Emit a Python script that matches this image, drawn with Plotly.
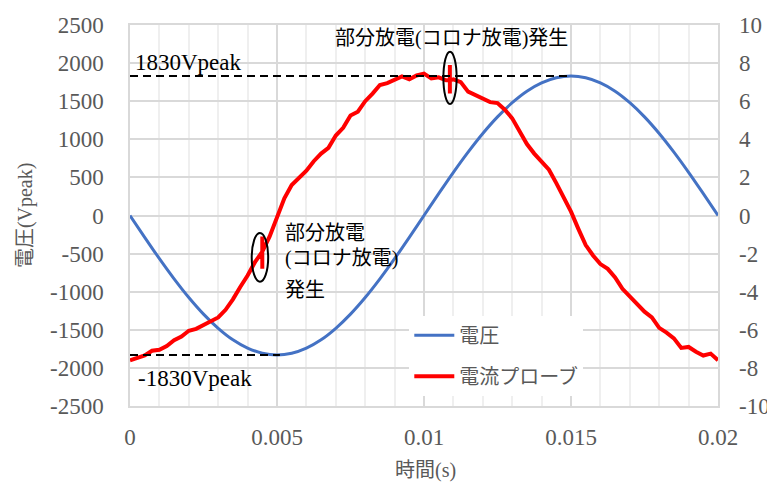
import plotly.graph_objects as go

# ---- data ----
volt_t = [0.0000, 0.0005, 0.0010, 0.0015, 0.0020, 0.0025, 0.0030, 0.0035, 0.0040, 0.0045,
          0.0050, 0.0055, 0.0060, 0.0065, 0.0070, 0.0075, 0.0080, 0.0085, 0.0090, 0.0095,
          0.0100, 0.0105, 0.0110, 0.0115, 0.0120, 0.0125, 0.0130, 0.0135, 0.0140, 0.0145,
          0.0150, 0.0155, 0.0160, 0.0165, 0.0170, 0.0175, 0.0180, 0.0185, 0.0190, 0.0195,
          0.0200]
volt_v = [0, -286, -566, -831, -1076, -1294, -1480, -1631, -1740, -1807,
          -1830, -1807, -1740, -1631, -1480, -1294, -1076, -831, -566, -286,
          0, 286, 566, 831, 1076, 1294, 1480, 1631, 1740, 1807,
          1830, 1807, 1740, 1631, 1480, 1294, 1076, 831, 566, 286,
          0]

cur_t = [0.00000, 0.00025, 0.00050, 0.00075, 0.00100, 0.00125, 0.00150, 0.00175, 0.00200, 0.00225,
         0.00250, 0.00275, 0.00300, 0.00325, 0.00350, 0.00375, 0.00400, 0.00425, 0.00450, 0.00450,
         0.00450, 0.00450, 0.00475, 0.00500, 0.00525, 0.00550, 0.00575, 0.00600, 0.00625, 0.00650,
         0.00675, 0.00700, 0.00725, 0.00750, 0.00775, 0.00800, 0.00825, 0.00850, 0.00875, 0.00900,
         0.00925, 0.00950, 0.00975, 0.01000, 0.01025, 0.01050, 0.01075, 0.01088, 0.01088, 0.01088,
         0.01088, 0.01100, 0.01125, 0.01150, 0.01175, 0.01200, 0.01225, 0.01250, 0.01275, 0.01300,
         0.01325, 0.01350, 0.01375, 0.01400, 0.01425, 0.01450, 0.01475, 0.01500, 0.01525, 0.01550,
         0.01575, 0.01600, 0.01625, 0.01650, 0.01675, 0.01700, 0.01725, 0.01750, 0.01775, 0.01800,
         0.01825, 0.01850, 0.01875, 0.01900, 0.01925, 0.01950, 0.01975, 0.02000]
cur_v = [-7.60, -7.45, -7.35, -7.10, -7.05, -6.85, -6.55, -6.35, -6.05, -5.95,
         -5.75, -5.60, -5.35, -4.95, -4.40, -3.75, -3.15, -2.45, -1.90, -1.10,
         -2.80, -1.90, -1.10, -0.10, 0.90, 1.60, 2.00, 2.35, 2.85, 3.25,
         3.55, 4.20, 4.60, 5.25, 5.45, 6.00, 6.40, 6.85, 6.95, 7.15,
         7.30, 7.15, 7.35, 7.45, 7.20, 7.25, 7.10, 7.10, 7.90, 6.40,
         7.10, 7.15, 7.00, 6.50, 6.30, 6.15, 5.95, 5.90, 5.55, 5.10,
         4.45, 3.75, 3.25, 2.80, 2.40, 1.70, 0.95, 0.20, -0.70, -1.55,
         -2.10, -2.55, -2.80, -3.25, -3.85, -4.25, -4.65, -5.05, -5.35, -5.90,
         -6.15, -6.45, -6.95, -6.90, -7.15, -7.35, -7.25, -7.60]

x_ticks = [0, 0.005, 0.01, 0.015, 0.02]
x_ticktext = ["0", "0.005", "0.01", "0.015", "0.02"]
y_ticks = [2500, 2000, 1500, 1000, 500, 0, -500, -1000, -1500, -2000, -2500]
y_ticktext = ["2500", "2000", "1500", "1000", "500", "0", "-500", "-1000", "-1500", "-2000", "-2500"]
y2_ticks = [10, 8, 6, 4, 2, 0, -2, -4, -6, -8, -10]
y2_ticktext = ["10", "8", "6", "4", "2", "0", "-2", "-4", "-6", "-8", "-10"]
peak = 1830

GRAY = "#595959"
SERIF = "Liberation Serif"
MIX = "Liberation Serif, Noto Sans CJK JP"

fig = go.Figure()
fig.add_trace(go.Scatter(x=volt_t, y=volt_v, mode="lines", name="電圧",
                         line=dict(color="#4472c4", width=3, shape="spline"),
                         legendgroup="a"))
fig.add_trace(go.Scatter(x=cur_t, y=cur_v, mode="lines", name="電流プローブ",
                         line=dict(color="#ff0000", width=4), yaxis="y2",
                         legendgroup="b"))

tickfont = dict(family=SERIF, size=23, color=GRAY)

# page body has an 8px margin, so the figure is 8px smaller and margins shifted
fig.update_layout(
    width=767, height=476,
    margin=dict(l=122, r=57, t=17, b=78),
    paper_bgcolor="white", plot_bgcolor="white",
    showlegend=True,
    legend=dict(x=0.475, y=0.237, xanchor="left", yanchor="top",
                bgcolor="white", font=dict(family="Noto Sans CJK JP", size=20, color=GRAY),
                tracegroupgap=12, itemwidth=40),
    xaxis=dict(range=[0, 0.02], tickvals=x_ticks, ticktext=x_ticktext, tickfont=tickfont,
               showgrid=True, gridcolor="#d9d9d9", gridwidth=1.5,
               minor=dict(dtick=0.001, showgrid=True, gridcolor="#efefef", gridwidth=1.5),
               showline=True, linecolor="#d9d9d9", mirror=True, linewidth=1.5,
               zeroline=False, ticks="", ticklabelstandoff=10, automargin=False),
    yaxis=dict(range=[-2500, 2500], tickvals=y_ticks, ticktext=y_ticktext, tickfont=tickfont,
               showgrid=True, gridcolor="#d9d9d9", gridwidth=1.5,
               showline=True, linecolor="#d9d9d9", mirror=True, linewidth=1.5,
               zeroline=True, zerolinecolor="#d9d9d9", zerolinewidth=1.5,
               ticks="", ticklabelstandoff=20, automargin=False),
    yaxis2=dict(range=[-10, 10], tickvals=y2_ticks, ticktext=y2_ticktext, overlaying="y",
                side="right", tickfont=tickfont,
                showgrid=False, zeroline=False, ticks="", ticklabelstandoff=20, automargin=False),
)

# dashed peak lines
fig.add_shape(type="line", xref="x", yref="y", x0=0, x1=0.0149, y0=peak, y1=peak,
              line=dict(color="black", width=2, dash="8px,5px"))
fig.add_shape(type="line", xref="x", yref="y", x0=0, x1=0.0051, y0=-peak, y1=-peak,
              line=dict(color="black", width=2, dash="8px,5px"))

# ellipses
fig.add_shape(type="circle", xref="x", yref="y", x0=0.00414, x1=0.0047, y0=-869, y1=-230,
              line=dict(color="black", width=2))
fig.add_shape(type="circle", xref="x", yref="y", x0=0.01066, x1=0.01111, y0=1463, y1=2150,
              line=dict(color="black", width=2))

ann = [
    dict(x=0.0001, y=2014, text="1830Vpeak", xanchor="left", font=dict(family=SERIF, size=23, color="black")),
    dict(x=0.0002, y=-2133, text="-1830Vpeak", xanchor="left", font=dict(family=SERIF, size=23, color="black")),
    dict(x=0.01092, y=2329, text="部分放電(コロナ放電)発生", xanchor="center", font=dict(family=MIX, size=20, color="black")),
    dict(x=0.0052, y=-230, text="部分放電", xanchor="left", font=dict(family=MIX, size=20, color="black")),
    dict(x=0.0052, y=-558, text="(コロナ放電)", xanchor="left", font=dict(family=MIX, size=20, color="black")),
    dict(x=0.0052, y=-978, text="発生", xanchor="left", font=dict(family=MIX, size=20, color="black")),
]
for a in ann:
    fig.add_annotation(xref="x", yref="y", showarrow=False, yanchor="middle", **a)

fig.add_annotation(xref="paper", yref="paper", x=0.502, y=0, yshift=-64, text="時間(s)",
                   showarrow=False, xanchor="center", yanchor="middle",
                   font=dict(family=MIX, size=20, color=GRAY))
fig.add_annotation(xref="paper", yref="paper", x=0, y=0.501, xshift=-105, text="電圧(Vpeak)",
                   showarrow=False, xanchor="center", yanchor="middle", textangle=-90,
                   font=dict(family=MIX, size=20, color=GRAY))

fig.write_html("out.html")
